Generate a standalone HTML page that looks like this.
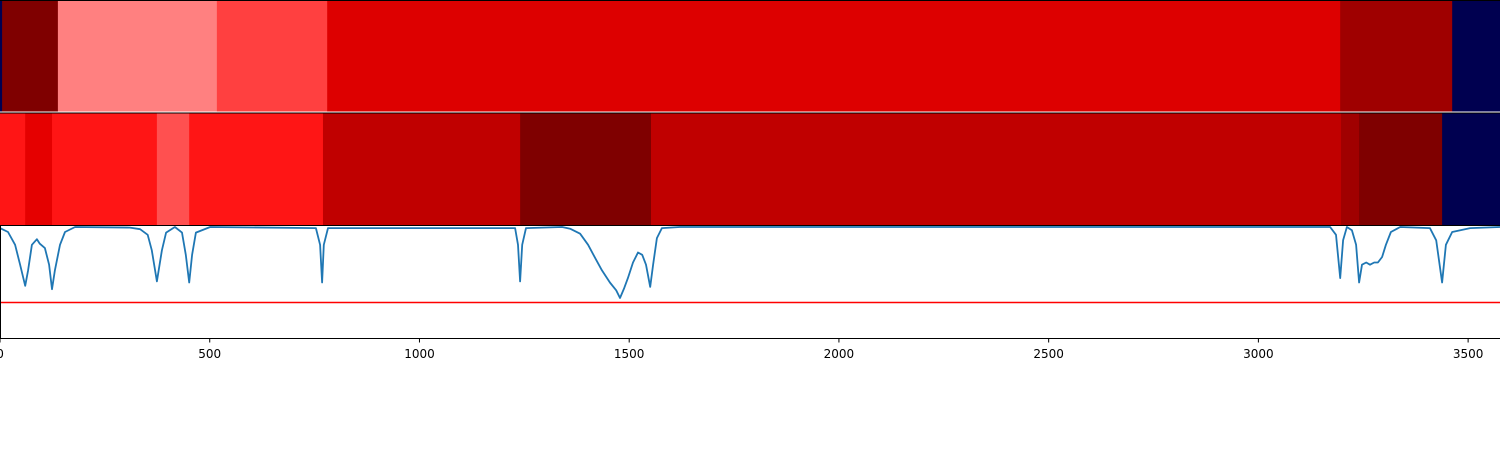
<!DOCTYPE html>
<html><head><meta charset="utf-8"><style>
html,body{margin:0;padding:0;background:#fff;}
svg{display:block;font-family:"DejaVu Sans","Liberation Sans",sans-serif;}
</style></head><body>
<svg id="chart" width="1500" height="450"></svg>
<script>
const row1Edges=[0,5,138,517,780,3195,3462,3576];
const row1Colors=["#000050","#7f0000","#ff8080","#ff4040","#dd0000","#9f0000","#000050"];
const row2Edges=[0,60,124,374,451,770,1240,1552,3197,3240,3438,3576];
const row2Colors=["#ff1515","#e50000","#ff1515","#ff5050","#ff1515","#c00000","#7f0000","#c00000","#a00000","#7f0000","#000050"];
const curveX=[0,19,36,48,60,67,76,88,95,107,117,124,131,143,155,179,310,334,352,362,374,386,396,417,434,443,451,458,467,501,753,763,768,772,782,1228,1235,1240,1245,1254,1340,1359,1383,1402,1419,1435,1454,1469,1478,1488,1497,1509,1521,1531,1540,1550,1557,1566,1578,1621,3171,3185,3195,3202,3211,3223,3233,3240,3247,3257,3266,3276,3285,3295,3304,3316,3338,3409,3424,3438,3447,3462,3505,3576];
const curveY=[0.99,0.955,0.84,0.66,0.47,0.61,0.84,0.89,0.85,0.81,0.66,0.44,0.61,0.84,0.955,1.0,0.995,0.98,0.93,0.79,0.51,0.79,0.95,1.0,0.95,0.75,0.50,0.75,0.95,1.0,0.99,0.84,0.50,0.84,0.99,0.99,0.84,0.51,0.84,0.99,1.0,0.985,0.94,0.84,0.72,0.61,0.50,0.43,0.36,0.45,0.54,0.68,0.77,0.75,0.66,0.46,0.66,0.90,0.99,1.0,1.0,0.93,0.54,0.88,1.0,0.97,0.84,0.50,0.66,0.68,0.66,0.68,0.68,0.73,0.84,0.955,1.0,0.99,0.88,0.50,0.84,0.955,0.99,1.0];
const threshold=[0.32];
const ticks=[0,500,1000,1500,2000,2500,3000,3500];

const NS="http://www.w3.org/2000/svg";
const svg=document.getElementById('chart');
const xMax=3576;
const xs=v=>v/xMax*1500;
const ys=v=>338-v*111;
function mk(tag,attrs,parent){const e=document.createElementNS(NS,tag);for(const k in attrs)e.setAttribute(k,attrs[k]);(parent||svg).appendChild(e);return e;}

function drawRow(edges,colors,y0,h,name){
  for(let i=0;i<colors.length;i++){
    const r=mk('rect',{x:xs(edges[i]),y:y0,width:xs(edges[i+1])-xs(edges[i])+0.5,height:h,fill:colors[i]});
    
    
  }
}
drawRow(row1Edges,row1Colors,1,111,'heatmap-row1');
drawRow(row2Edges,row2Colors,113,112,'heatmap-row2');
let l=mk('line',{x1:0,x2:1500,y1:0.5,y2:0.5,stroke:'#000','stroke-width':1});


l=mk('line',{x1:0,x2:1500,y1:112,y2:112,stroke:'#fff','stroke-width':1});


l=mk('line',{x1:0,x2:1500,y1:113,y2:113,stroke:'#000','stroke-width':1});


l=mk('line',{x1:0,x2:1500,y1:225.5,y2:225.5,stroke:'#000','stroke-width':1});



l=mk('line',{x1:0,x2:1500,y1:ys(threshold[0]),y2:ys(threshold[0]),stroke:'#ff0000','stroke-width':1.5});



let d='';
for(let i=0;i<curveX.length;i++)d+=(i?'L':'M')+xs(curveX[i]).toFixed(1)+' '+ys(curveY[i]).toFixed(1);
const p=mk('path',{d:d,fill:'none',stroke:'#1f77b4','stroke-width':1.8,'stroke-linejoin':'round'});



l=mk('line',{x1:0.5,x2:0.5,y1:226,y2:338,stroke:'#000','stroke-width':1});


l=mk('line',{x1:0,x2:1500,y1:338.5,y2:338.5,stroke:'#000','stroke-width':1});


ticks.forEach(t=>{
  const x=xs(t);
  const tk=mk('line',{x1:x,x2:x,y1:338,y2:342.5,stroke:'#000','stroke-width':1});
  
  
  const tx=mk('text',{x:x,y:358,'text-anchor':'middle','font-size':12,fill:'#000'});
  tx.textContent=t;
  
  
});
</script>
</body></html>
